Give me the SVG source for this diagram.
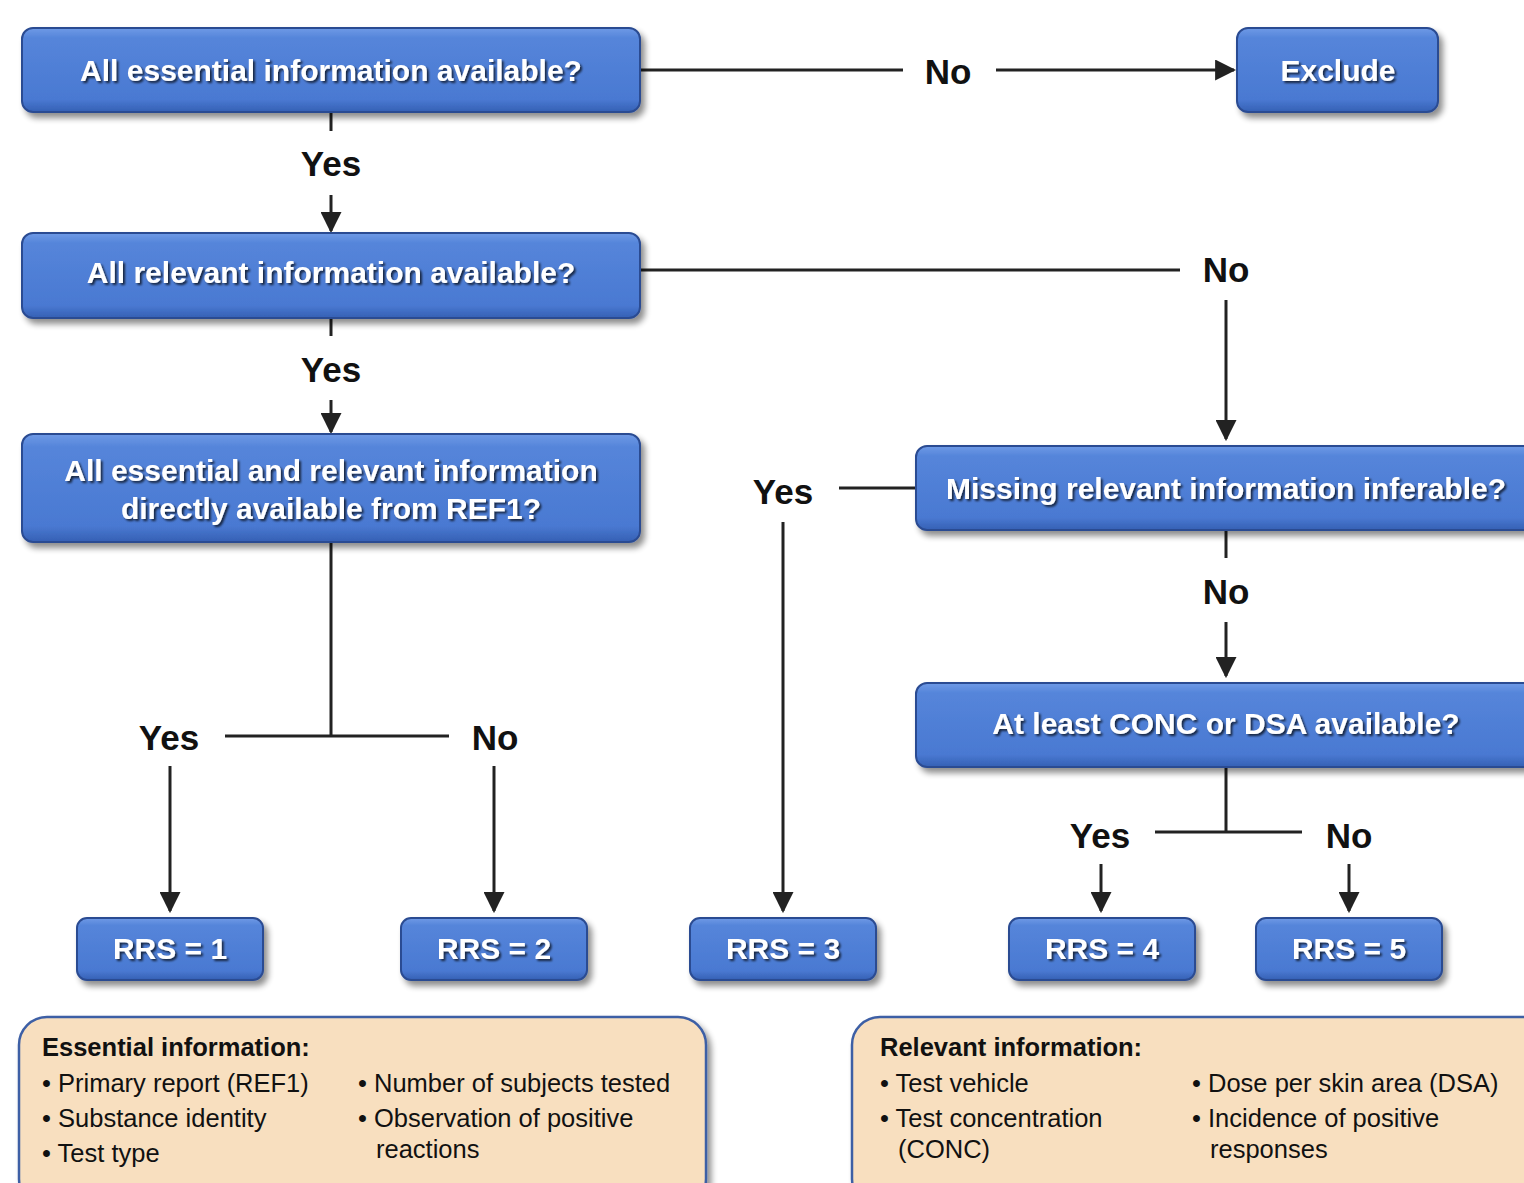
<svg xmlns="http://www.w3.org/2000/svg" width="1524" height="1183" viewBox="0 0 1524 1183">
<defs>
<linearGradient id="blue" x1="0" y1="0" x2="0" y2="1">
<stop offset="0" stop-color="#6f9ae6"/>
<stop offset="0.12" stop-color="#5585da"/>
<stop offset="0.85" stop-color="#4a79d2"/>
<stop offset="1" stop-color="#3560b4"/>
</linearGradient>
<filter id="sh" x="-10%" y="-20%" width="125%" height="150%">
<feGaussianBlur in="SourceAlpha" stdDeviation="3"/>
<feOffset dx="4" dy="5"/>
<feComponentTransfer><feFuncA type="linear" slope="0.45"/></feComponentTransfer>
<feMerge><feMergeNode/><feMergeNode in="SourceGraphic"/></feMerge>
</filter>
<filter id="ts" x="-5%" y="-30%" width="110%" height="160%">
<feGaussianBlur in="SourceAlpha" stdDeviation="1"/>
<feOffset dx="1.5" dy="2"/>
<feComponentTransfer><feFuncA type="linear" slope="0.7"/></feComponentTransfer>
<feMerge><feMergeNode/><feMergeNode in="SourceGraphic"/></feMerge>
</filter>
<marker id="arr" viewBox="0 0 10 10" refX="9" refY="5" markerWidth="7" markerHeight="7" orient="auto" markerUnits="strokeWidth">
<path d="M0,0 L10,5 L0,10 z" fill="#222"/>
</marker>
</defs>
<style>
.box{fill:url(#blue);stroke:#2c4c92;stroke-width:2;filter:url(#sh)}
.bt{font-family:"Liberation Sans",Arial,sans-serif;font-weight:bold;font-size:30px;fill:#fff;text-anchor:middle;filter:url(#ts)}
.info{fill:#f8dfbf;stroke:#3d5fa5;stroke-width:2.5;filter:url(#sh)}
.lbl{font-family:"Liberation Sans",Arial,sans-serif;font-weight:bold;font-size:35px;fill:#111;text-anchor:middle}
.ln{stroke:#222;stroke-width:3;fill:none}
.ar{stroke:#222;stroke-width:3;fill:none;marker-end:url(#arr)}
.it{font-family:"Liberation Sans",Arial,sans-serif;font-size:25.5px;fill:#111}
.hd{font-family:"Liberation Sans",Arial,sans-serif;font-size:25.5px;font-weight:bold;fill:#111}
</style>
<g id="connectors">
<path class="ln" d="M640,70 H903"/>
<path class="ar" d="M996,70 H1234"/>
<path class="ln" d="M331,112 V131"/>
<path class="ar" d="M331,195 V231"/>
<path class="ln" d="M640,270 H1180"/>
<path class="ar" d="M1226,300 V439"/>
<path class="ln" d="M331,318 V336"/>
<path class="ar" d="M331,400 V432"/>
<path class="ln" d="M331,542 V736 M225,736 H449"/>
<path class="ar" d="M170,766 V911"/>
<path class="ar" d="M494,766 V911"/>
<path class="ln" d="M839,488 H916"/>
<path class="ar" d="M783,522 V911"/>
<path class="ln" d="M1226,530 V558"/>
<path class="ar" d="M1226,622 V676"/>
<path class="ln" d="M1226,767 V832 M1155,832 H1302"/>
<path class="ar" d="M1101,864 V911"/>
<path class="ar" d="M1349,864 V911"/>
<text class="lbl" x="948" y="84">No</text>
<text class="lbl" x="331" y="176">Yes</text>
<text class="lbl" x="1226" y="282">No</text>
<text class="lbl" x="331" y="382">Yes</text>
<text class="lbl" x="783" y="504">Yes</text>
<text class="lbl" x="1226" y="604">No</text>
<text class="lbl" x="169" y="750">Yes</text>
<text class="lbl" x="495" y="750">No</text>
<text class="lbl" x="1100" y="848">Yes</text>
<text class="lbl" x="1349" y="848">No</text>
</g>
<g id="n-essential">
<rect class="box" x="22" y="28" width="618" height="84" rx="11"/>
<text class="bt" x="331" y="81">All essential information available?</text>
</g>
<g id="n-exclude">
<rect class="box" x="1237" y="28" width="201" height="84" rx="11"/>
<text class="bt" x="1338" y="81">Exclude</text>
</g>
<g id="n-relevant">
<rect class="box" x="22" y="233" width="618" height="85" rx="11"/>
<text class="bt" x="331" y="283">All relevant information available?</text>
</g>
<g id="n-ref1">
<rect class="box" x="22" y="434" width="618" height="108" rx="11"/>
<text class="bt" x="331" y="481">All essential and relevant information</text>
<text class="bt" x="331" y="519">directly available from REF1?</text>
</g>
<g id="n-inferable">
<rect class="box" x="916" y="446" width="630" height="84" rx="11"/>
<text class="bt" x="1226" y="499">Missing relevant information inferable?</text>
</g>
<g id="n-conc">
<rect class="box" x="916" y="683" width="630" height="84" rx="11"/>
<text class="bt" x="1226" y="734">At least CONC or DSA available?</text>
</g>
<g id="n-rrs1">
<rect class="box" x="77" y="918" width="186" height="62" rx="10"/>
<text class="bt" x="170" y="959">RRS = 1</text>
</g>
<g id="n-rrs2">
<rect class="box" x="401" y="918" width="186" height="62" rx="10"/>
<text class="bt" x="494" y="959">RRS = 2</text>
</g>
<g id="n-rrs3">
<rect class="box" x="690" y="918" width="186" height="62" rx="10"/>
<text class="bt" x="783" y="959">RRS = 3</text>
</g>
<g id="n-rrs4">
<rect class="box" x="1009" y="918" width="186" height="62" rx="10"/>
<text class="bt" x="1102" y="959">RRS = 4</text>
</g>
<g id="n-rrs5">
<rect class="box" x="1256" y="918" width="186" height="62" rx="10"/>
<text class="bt" x="1349" y="959">RRS = 5</text>
</g>
<g id="n-essential-info">
<rect class="info" x="19" y="1017" width="687" height="190" rx="28"/>
<text class="hd" x="42" y="1056">Essential information:</text>
<text class="it" x="42" y="1092">• Primary report (REF1)</text>
<text class="it" x="42" y="1127">• Substance identity</text>
<text class="it" x="42" y="1162">• Test type</text>
<text class="it" x="358" y="1092">• Number of subjects tested</text>
<text class="it" x="358" y="1127">• Observation of positive</text>
<text class="it" x="376" y="1158">reactions</text>
</g>
<g id="n-relevant-info">
<rect class="info" x="852" y="1017" width="700" height="190" rx="28"/>
<text class="hd" x="880" y="1056">Relevant information:</text>
<text class="it" x="880" y="1092">• Test vehicle</text>
<text class="it" x="880" y="1127">• Test concentration</text>
<text class="it" x="898" y="1158">(CONC)</text>
<text class="it" x="1192" y="1092">• Dose per skin area (DSA)</text>
<text class="it" x="1192" y="1127">• Incidence of positive</text>
<text class="it" x="1210" y="1158">responses</text>
</g>
</svg>
